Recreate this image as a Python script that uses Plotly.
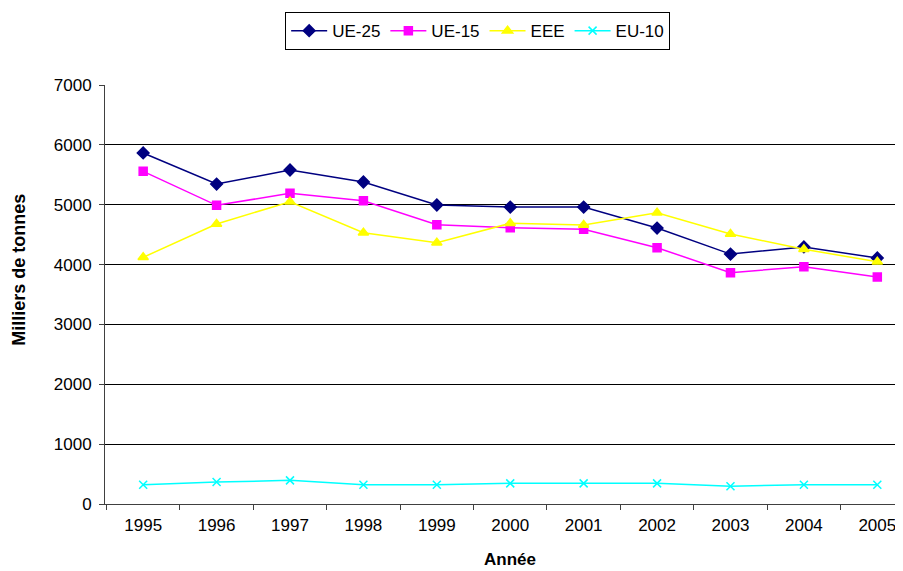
import plotly.graph_objects as go

years = ["1995", "1996", "1997", "1998", "1999", "2000", "2001", "2002", "2003", "2004", "2005"]
ue25 = [5865, 5345, 5580, 5380, 4995, 4960, 4960, 4610, 4175, 4295, 4110]
ue15 = [5558, 4990, 5190, 5065, 4666, 4615, 4590, 4282, 3865, 3965, 3792]
eee = [4121, 4678, 5050, 4533, 4366, 4689, 4661, 4867, 4511, 4255, 4048]
eu10 = [323, 367, 395, 323, 323, 345, 345, 345, 295, 323, 323]

series = [
    ("UE-25", ue25, "#000080", "diamond", 9),
    ("UE-15", ue15, "#FF00FF", "square", 8),
    ("EEE", eee, "#FFFF00", "triangle-up", 9),
    ("EU-10", eu10, "#00FFFF", "x-thin", 8),
]

fig = go.Figure()
for name, vals, col, sym, sz in series:
    fig.add_trace(go.Scatter(
        x=years, y=vals, name=name, mode="lines+markers",
        line=dict(color=col, width=1.5),
        marker=dict(symbol=sym, size=sz, color=col,
                    line=dict(color=col, width=1.5)),
    ))

fig.update_layout(
    width=895, height=563,
    margin=dict(l=97, r=0, t=77, b=67),
    paper_bgcolor="white", plot_bgcolor="white",
    font=dict(family="Liberation Sans, Arial, sans-serif", size=17, color="black"),
    showlegend=True,
    legend=dict(orientation="h", x=0.467, y=1.174, xanchor="center", yanchor="top",
                bordercolor="black", borderwidth=1, font=dict(size=17),
                itemwidth=36, tracegroupgap=0),
    annotations=[
        dict(text="<b>Milliers de tonnes</b>", xref="paper", yref="paper",
             x=-0.107, y=0.558, textangle=-90, showarrow=False,
             xanchor="center", yanchor="middle", font=dict(size=18)),
        dict(text="<b>Année</b>", xref="paper", yref="paper",
             x=0.5075, y=-0.133, showarrow=False,
             xanchor="center", yanchor="middle", font=dict(size=17)),
    ],
)
fig.update_xaxes(
    type="category", range=[-0.52, 10.35],
    showline=True, linecolor="#404040", linewidth=1,
    ticks="outside", tickson="boundaries", ticklen=5, tickcolor="#404040",
    showgrid=False, tickfont=dict(size=17), ticklabelstandoff=6,
)
fig.update_yaxes(
    range=[0, 7000], dtick=1000, tick0=0,
    showline=True, linecolor="#404040", linewidth=1,
    ticks="outside", ticklen=5, tickcolor="#404040",
    showgrid=True, gridcolor="black", gridwidth=1, zeroline=False,
    tickfont=dict(size=17), ticklabelstandoff=4,
)
fig.write_html("out.html")
